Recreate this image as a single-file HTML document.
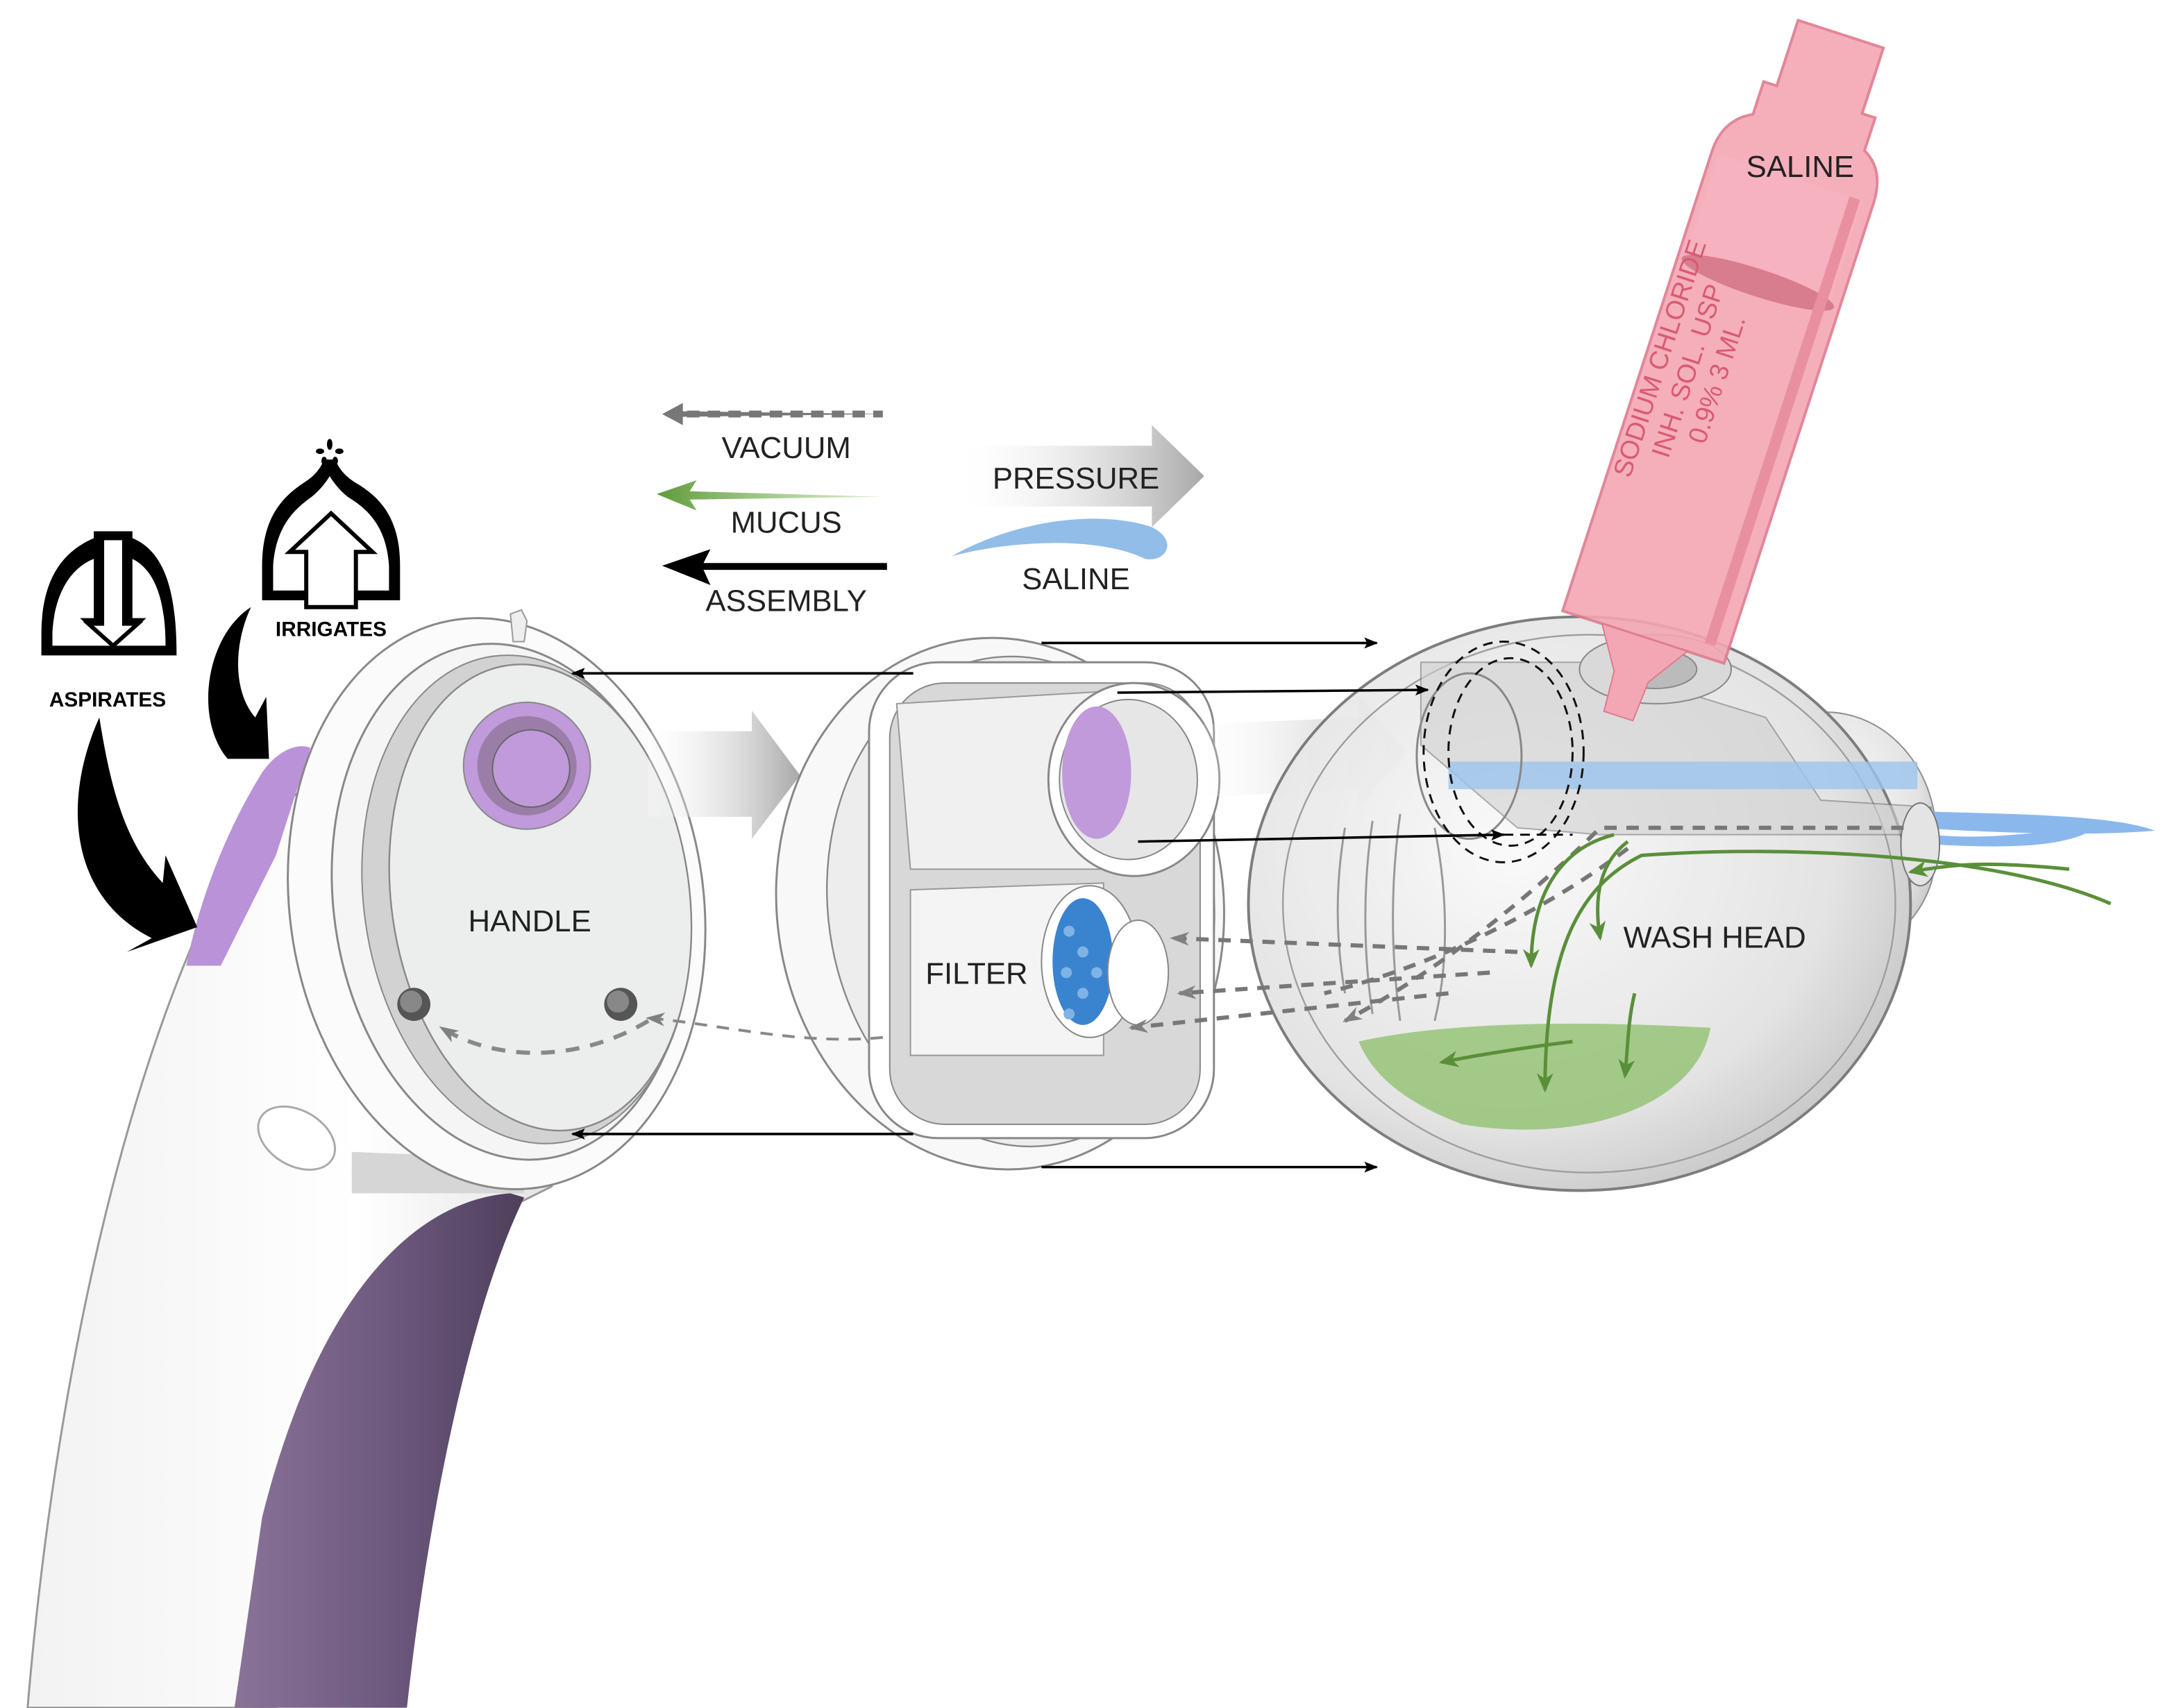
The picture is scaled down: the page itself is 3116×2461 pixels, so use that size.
<!DOCTYPE html>
<html><head><meta charset="utf-8">
<style>
html,body{margin:0;padding:0;background:#fff;}
svg{display:block;}
text{font-family:"Liberation Sans",sans-serif;}
</style></head>
<body>
<svg width="3116" height="2461" viewBox="0 0 1568 1238" xmlns="http://www.w3.org/2000/svg">
<defs>
<linearGradient id="grip" x1="0" x2="1" y1="0" y2="0">
<stop offset="0" stop-color="#8a7398"/><stop offset="0.5" stop-color="#6f5a80"/><stop offset="1" stop-color="#4e3f5c"/>
</linearGradient>
<linearGradient id="body" x1="0" x2="1">
<stop offset="0" stop-color="#f2f2f2"/><stop offset="0.6" stop-color="#ffffff"/><stop offset="1" stop-color="#e0e0e0"/>
</linearGradient>
<linearGradient id="pres" x1="0" x2="1">
<stop offset="0" stop-color="#ffffff" stop-opacity="0.2"/><stop offset="1" stop-color="#a8a8a8"/>
</linearGradient>
<linearGradient id="muc" x1="0" x2="1">
<stop offset="0" stop-color="#5f9b3a"/><stop offset="1" stop-color="#8cc06a" stop-opacity="0.3"/>
</linearGradient>
<radialGradient id="sphere" cx="0.4" cy="0.4" r="0.7">
<stop offset="0" stop-color="#fafafa"/><stop offset="0.7" stop-color="#e2e2e2"/><stop offset="1" stop-color="#bdbdbd"/>
</radialGradient>
<marker id="ah" markerWidth="10" markerHeight="8" refX="9" refY="4" orient="auto" markerUnits="userSpaceOnUse"><path d="M0,0L10,4L0,8L2,4z" fill="#000"/></marker>
<marker id="ag" markerWidth="14" markerHeight="10" refX="12" refY="5" orient="auto" markerUnits="userSpaceOnUse"><path d="M0,0L14,5L0,10L4,5z" fill="#808080"/></marker>
<marker id="agr" markerWidth="14" markerHeight="12" refX="12" refY="6" orient="auto" markerUnits="userSpaceOnUse"><path d="M0,0L14,6L0,12L4,6z" fill="#5a8f3a"/></marker>
</defs>

<!-- handle body -->
<path d="M160,640 C200,580 240,540 300,560 L420,650 L400,860 L380,870 C300,900 230,1000 200,1238 L20,1238 C40,1000 90,780 160,640Z" fill="url(#body)" stroke="#999" stroke-width="1.5"/>
<path d="M370,865 C300,870 230,940 190,1100 L170,1238 L295,1238 C310,1100 340,950 380,868Z" fill="url(#grip)"/>
<path d="M135,700 C145,650 165,600 190,560 C200,545 215,538 225,542 L200,620 L160,700Z" fill="#b992d8"/>
<ellipse cx="215" cy="825" rx="30" ry="20" transform="rotate(30 215 825)" fill="#fff" stroke="#aaa" stroke-width="1.5"/>
<path d="M255,835 L380,840 L380,865 L255,865Z" fill="#d6d6d6"/>

<!-- handle head -->
<g transform="rotate(-8 360 655)">
<ellipse cx="360" cy="655" rx="150" ry="208" fill="#fbfbfb" stroke="#888" stroke-width="1.5"/>
<ellipse cx="370" cy="655" rx="128" ry="188" fill="#f5f5f5" stroke="#888" stroke-width="1.5"/>
<ellipse cx="382" cy="655" rx="118" ry="178" fill="#d2d2d2" stroke="#888" stroke-width="1"/>
<ellipse cx="392" cy="655" rx="108" ry="170" fill="#eceeed" stroke="#888" stroke-width="1.2"/>
</g>
<path d="M370,445 L378,442 L382,450 L380,465 L372,465Z" fill="#eee" stroke="#999"/>
<circle cx="382" cy="555" r="46" fill="#c09adb" stroke="#888" stroke-width="1"/>
<circle cx="382" cy="555" r="36" fill="#9a7ea8"/>
<circle cx="385" cy="557" r="28" fill="#c09adb" stroke="#666" stroke-width="1"/>
<text x="384" y="675" font-size="22" fill="#222" text-anchor="middle">HANDLE</text>
<circle cx="300" cy="728" r="12" fill="#555"/><circle cx="298" cy="726" r="8" fill="#888"/>
<circle cx="450" cy="728" r="12" fill="#555"/><circle cx="448" cy="726" r="8" fill="#888"/>
<path d="M470,740 C420,770 360,770 320,745" fill="none" stroke="#888" stroke-width="3" stroke-dasharray="10,8" marker-end="url(#ag)"/>

<path d="M470,530 L545,530 L545,515 L580,562 L545,608 L545,592 L470,592Z" fill="url(#pres)"/>

<!-- filter ring -->
<g transform="rotate(-6 725 655)">
<ellipse cx="725" cy="655" rx="162" ry="193" fill="#f8f8f8" stroke="#888" stroke-width="1.5"/>
<ellipse cx="740" cy="655" rx="140" ry="178" fill="#ededed" stroke="#888" stroke-width="1.2"/>
</g>
<rect x="630" y="480" width="250" height="345" rx="50" fill="#fff" stroke="#888" stroke-width="1.5"/>
<rect x="645" y="495" width="225" height="320" rx="40" fill="#d8d8d8" stroke="#888" stroke-width="1"/>
<path d="M650,510 L820,500 L820,630 L660,630Z" fill="#f0f0f0" stroke="#999"/>
<ellipse cx="822" cy="565" rx="62" ry="70" fill="#fff" stroke="#888" stroke-width="1.5"/>
<ellipse cx="818" cy="565" rx="50" ry="58" fill="#e6e6e6" stroke="#888"/>
<ellipse cx="795" cy="560" rx="25" ry="48" fill="#c09adb"/>
<path d="M660,645 L800,640 L800,765 L660,765Z" fill="#f4f4f4" stroke="#999"/>
<ellipse cx="790" cy="697" rx="35" ry="55" fill="#fff" stroke="#888"/>
<ellipse cx="785" cy="697" rx="22" ry="46" fill="#3a84cf"/>
<g fill="#7fb3e6"><circle cx="775" cy="675" r="4"/><circle cx="785" cy="690" r="4"/><circle cx="773" cy="705" r="4"/><circle cx="785" cy="720" r="4"/><circle cx="775" cy="735" r="4"/><circle cx="795" cy="705" r="4"/></g>
<ellipse cx="825" cy="705" rx="22" ry="38" fill="#fff" stroke="#888"/>
<text x="708" y="713" font-size="22" fill="#222" text-anchor="middle">FILTER</text>

<path d="M870,525 L985,520 L985,505 L1020,545 L985,585 L985,572 L870,578Z" fill="url(#pres)" opacity="0.8"/>

<!-- wash head -->
<g opacity="0.95">
<path d="M1300,520 C1360,500 1420,560 1400,640 C1380,700 1320,690 1290,700Z" fill="url(#sphere)" stroke="#888"/>
<ellipse cx="1145" cy="655" rx="240" ry="208" fill="url(#sphere)" stroke="#777" stroke-width="2"/>
<ellipse cx="1152" cy="655" rx="222" ry="195" fill="none" stroke="#999" stroke-width="1.2"/>
</g>
<path d="M985,755 C1050,740 1150,740 1240,745 C1230,800 1150,830 1060,815 C1020,800 995,780 985,755Z" fill="#8cbf6a" opacity="0.75"/>
<path d="M1030,480 L1150,480 L1280,520 L1320,580 L1400,585 L1400,605 L1160,605 L1100,600 L1030,540Z" fill="#d0d0d0" opacity="0.6" stroke="#777"/>
<rect x="1050" y="552" width="340" height="20" fill="#9cc4ee" opacity="0.8"/>
<path d="M1390,588 C1450,590 1530,590 1562,602 C1520,606 1450,604 1390,600Z" fill="#8ab8ec"/>
<path d="M1400,605 C1450,610 1490,600 1520,600 C1500,612 1470,616 1400,612Z" fill="#8ab8ec"/>
<ellipse cx="1392" cy="612" rx="14" ry="30" fill="#e4e4e4" stroke="#777"/>
<ellipse cx="1065" cy="548" rx="38" ry="60" fill="none" stroke="#888" stroke-width="1.5"/>
<ellipse cx="1090" cy="545" rx="58" ry="80" fill="none" stroke="#111" stroke-width="1.5" stroke-dasharray="7,5"/>
<ellipse cx="1095" cy="545" rx="45" ry="68" fill="none" stroke="#111" stroke-width="1.5" stroke-dasharray="7,5"/>
<ellipse cx="1200" cy="485" rx="55" ry="25" fill="#d9d9d9" stroke="#888"/>
<ellipse cx="1200" cy="485" rx="30" ry="14" fill="#bbb" stroke="#888"/>
<g stroke="#999" stroke-width="1.5" fill="none">
<path d="M975,600 C968,640 968,680 975,720"/><path d="M995,595 C988,640 988,690 995,735"/><path d="M1015,590 C1008,640 1008,690 1015,740"/><path d="M1040,600 C1050,650 1050,700 1040,740"/>
</g>
<text x="1243" y="687" font-size="22" fill="#222" text-anchor="middle">WASH HEAD</text>
<g fill="none" stroke="#777" stroke-width="3" stroke-dasharray="9,7">
<path d="M1380,600 L1160,600 C1120,640 1050,700 975,740" marker-end="url(#ag)"/>
<path d="M1180,615 C1120,660 1040,700 960,720" />
<path d="M1100,690 L850,680" marker-end="url(#ag)"/>
<path d="M1080,705 L855,720" marker-end="url(#ag)"/>
<path d="M1050,720 L820,745" marker-end="url(#ag)"/>
</g>
<path d="M640,752 C580,758 520,742 470,738" fill="none" stroke="#888" stroke-width="2" stroke-dasharray="9,7" marker-end="url(#ag)"/>
<g fill="none" stroke="#5a8f3a" stroke-width="2.5">
<path d="M1530,655 C1450,620 1300,612 1190,620 C1150,640 1120,680 1120,790" marker-end="url(#agr)"/>
<path d="M1180,610 C1160,625 1155,650 1160,680" marker-end="url(#agr)"/>
<path d="M1170,605 C1130,615 1110,650 1110,700" marker-end="url(#agr)"/>
<path d="M1140,755 C1100,760 1070,765 1045,770" marker-end="url(#agr)"/>
<path d="M1185,720 C1180,740 1180,760 1178,780" marker-end="url(#agr)"/>
<path d="M1500,630 C1450,625 1420,625 1385,632" marker-end="url(#agr)"/>
</g>

<!-- saline vial -->
<g transform="rotate(18 1250 260)">
<path d="M1195,470 L1195,120 C1195,100 1205,90 1215,85 L1215,60 L1225,60 L1225,10 L1290,10 L1290,60 L1300,60 L1300,85 C1310,90 1318,100 1318,120 L1318,470 Z" fill="#f3a7b4" stroke="#e07a8e" stroke-width="2" opacity="0.9"/>
<rect x="1200" y="120" width="110" height="80" fill="#f6b3bf" opacity="0.9"/>
<ellipse cx="1256" cy="200" rx="58" ry="10" fill="#d77d8d"/>
<rect x="1300" y="120" width="8" height="340" fill="#e88fa0"/>
<path d="M1225,470 L1290,470 L1270,500 L1268,530 L1246,530 L1244,500Z" fill="#f3a7b4" stroke="#e07a8e"/>
</g>
<text x="1305" y="128" font-size="22" fill="#222" text-anchor="middle">SALINE</text>
<g transform="translate(1222,255) rotate(-72)" fill="#d95a72" font-size="19">
<text x="-100" y="-10">SODIUM CHLORIDE</text>
<text x="-78" y="12">INH. SOL. USP</text>
<text x="-60" y="34">0.9% 3 ML.</text>
</g>

<g stroke="#000" stroke-width="1.8" fill="none" marker-end="url(#ah)">
<line x1="755" y1="466" x2="998" y2="466"/>
<line x1="662" y1="488" x2="415" y2="488"/>
<line x1="810" y1="502" x2="1035" y2="500"/>
<line x1="825" y1="610" x2="1090" y2="605"/>
<line x1="662" y1="822" x2="415" y2="822"/>
<line x1="755" y1="846" x2="998" y2="846"/>
</g>
<line x1="1090" y1="605" x2="1140" y2="605" stroke="#000" stroke-width="1.5" stroke-dasharray="7,5"/>

<!-- legend -->
<path d="M480,300 L495,292 L495,298 L640,300 L495,302 L495,308Z" fill="#777"/>
<line x1="498" y1="300" x2="640" y2="300" stroke="#777" stroke-width="5" stroke-dasharray="9,6"/>
<text x="570" y="332" font-size="22" fill="#222" text-anchor="middle">VACUUM</text>
<path d="M476,358 L505,348 L500,356 L640,360 L500,362 L505,370Z" fill="url(#muc)"/>
<text x="570" y="386" font-size="22" fill="#222" text-anchor="middle">MUCUS</text>
<path d="M480,410 L515,398 L510,408 L643,408 L643,413 L510,413 L515,424Z" fill="#000"/>
<text x="570" y="443" font-size="22" fill="#222" text-anchor="middle">ASSEMBLY</text>
<path d="M700,323 L835,323 L835,308 L873,345 L835,382 L835,367 L700,367Z" fill="url(#pres)"/>
<text x="780" y="354" font-size="22" fill="#222" text-anchor="middle">PRESSURE</text>
<path d="M690,403 C740,375 800,370 835,382 C855,392 845,408 830,405 C800,390 740,390 690,403Z" fill="#92bde9"/>
<text x="780" y="427" font-size="22" fill="#222" text-anchor="middle">SALINE</text>

<!-- icons -->
<path d="M30,475 L30,460 C30,420 45,400 68,390 L68,385 L96,385 L96,390 C120,400 128,430 128,475Z" fill="#000"/>
<path d="M38,468 L38,458 C40,425 55,410 68,405 L68,448 L58,448 L82,470 L106,448 L96,448 L96,405 C110,412 120,430 120,468Z" fill="#fff"/>
<path d="M74,390 L90,390 L90,452 L100,452 L82,468 L64,452 L74,452Z" fill="#fff" stroke="#000" stroke-width="3"/>
<text x="78" y="512" font-size="15" font-weight="bold" fill="#000" text-anchor="middle">ASPIRATES</text>
<path d="M190,435 L190,410 C190,375 205,360 220,350 C228,345 232,340 235,333 L243,333 C246,340 250,345 258,350 C275,360 290,375 290,410 L290,435Z" fill="#000"/>
<path d="M198,428 L198,410 C200,380 215,368 226,360 C232,355 236,350 239,345 C242,350 246,355 252,360 C265,368 280,380 282,410 L282,428Z" fill="#fff"/>
<path d="M240,372 L270,400 L258,400 L258,440 L222,440 L222,400 L210,400Z" fill="#fff" stroke="#000" stroke-width="3"/>
<g fill="#000"><ellipse cx="239" cy="322" rx="2" ry="4"/><ellipse cx="232" cy="327" rx="3" ry="2"/><ellipse cx="246" cy="327" rx="3" ry="2"/><ellipse cx="235" cy="334" rx="2" ry="3"/><ellipse cx="243" cy="334" rx="2" ry="3"/></g>
<text x="240" y="461" font-size="15" font-weight="bold" fill="#000" text-anchor="middle">IRRIGATES</text>
<path d="M182,440 C150,460 140,520 165,550 L150,550 L195,550 L193,505 L185,520 C168,500 170,465 182,440Z" fill="#000"/>
<path d="M72,520 C45,580 50,650 110,680 L92,690 L143,672 L120,620 L118,640 C90,610 80,570 72,520Z" fill="#000"/>
</svg>
</body></html>
